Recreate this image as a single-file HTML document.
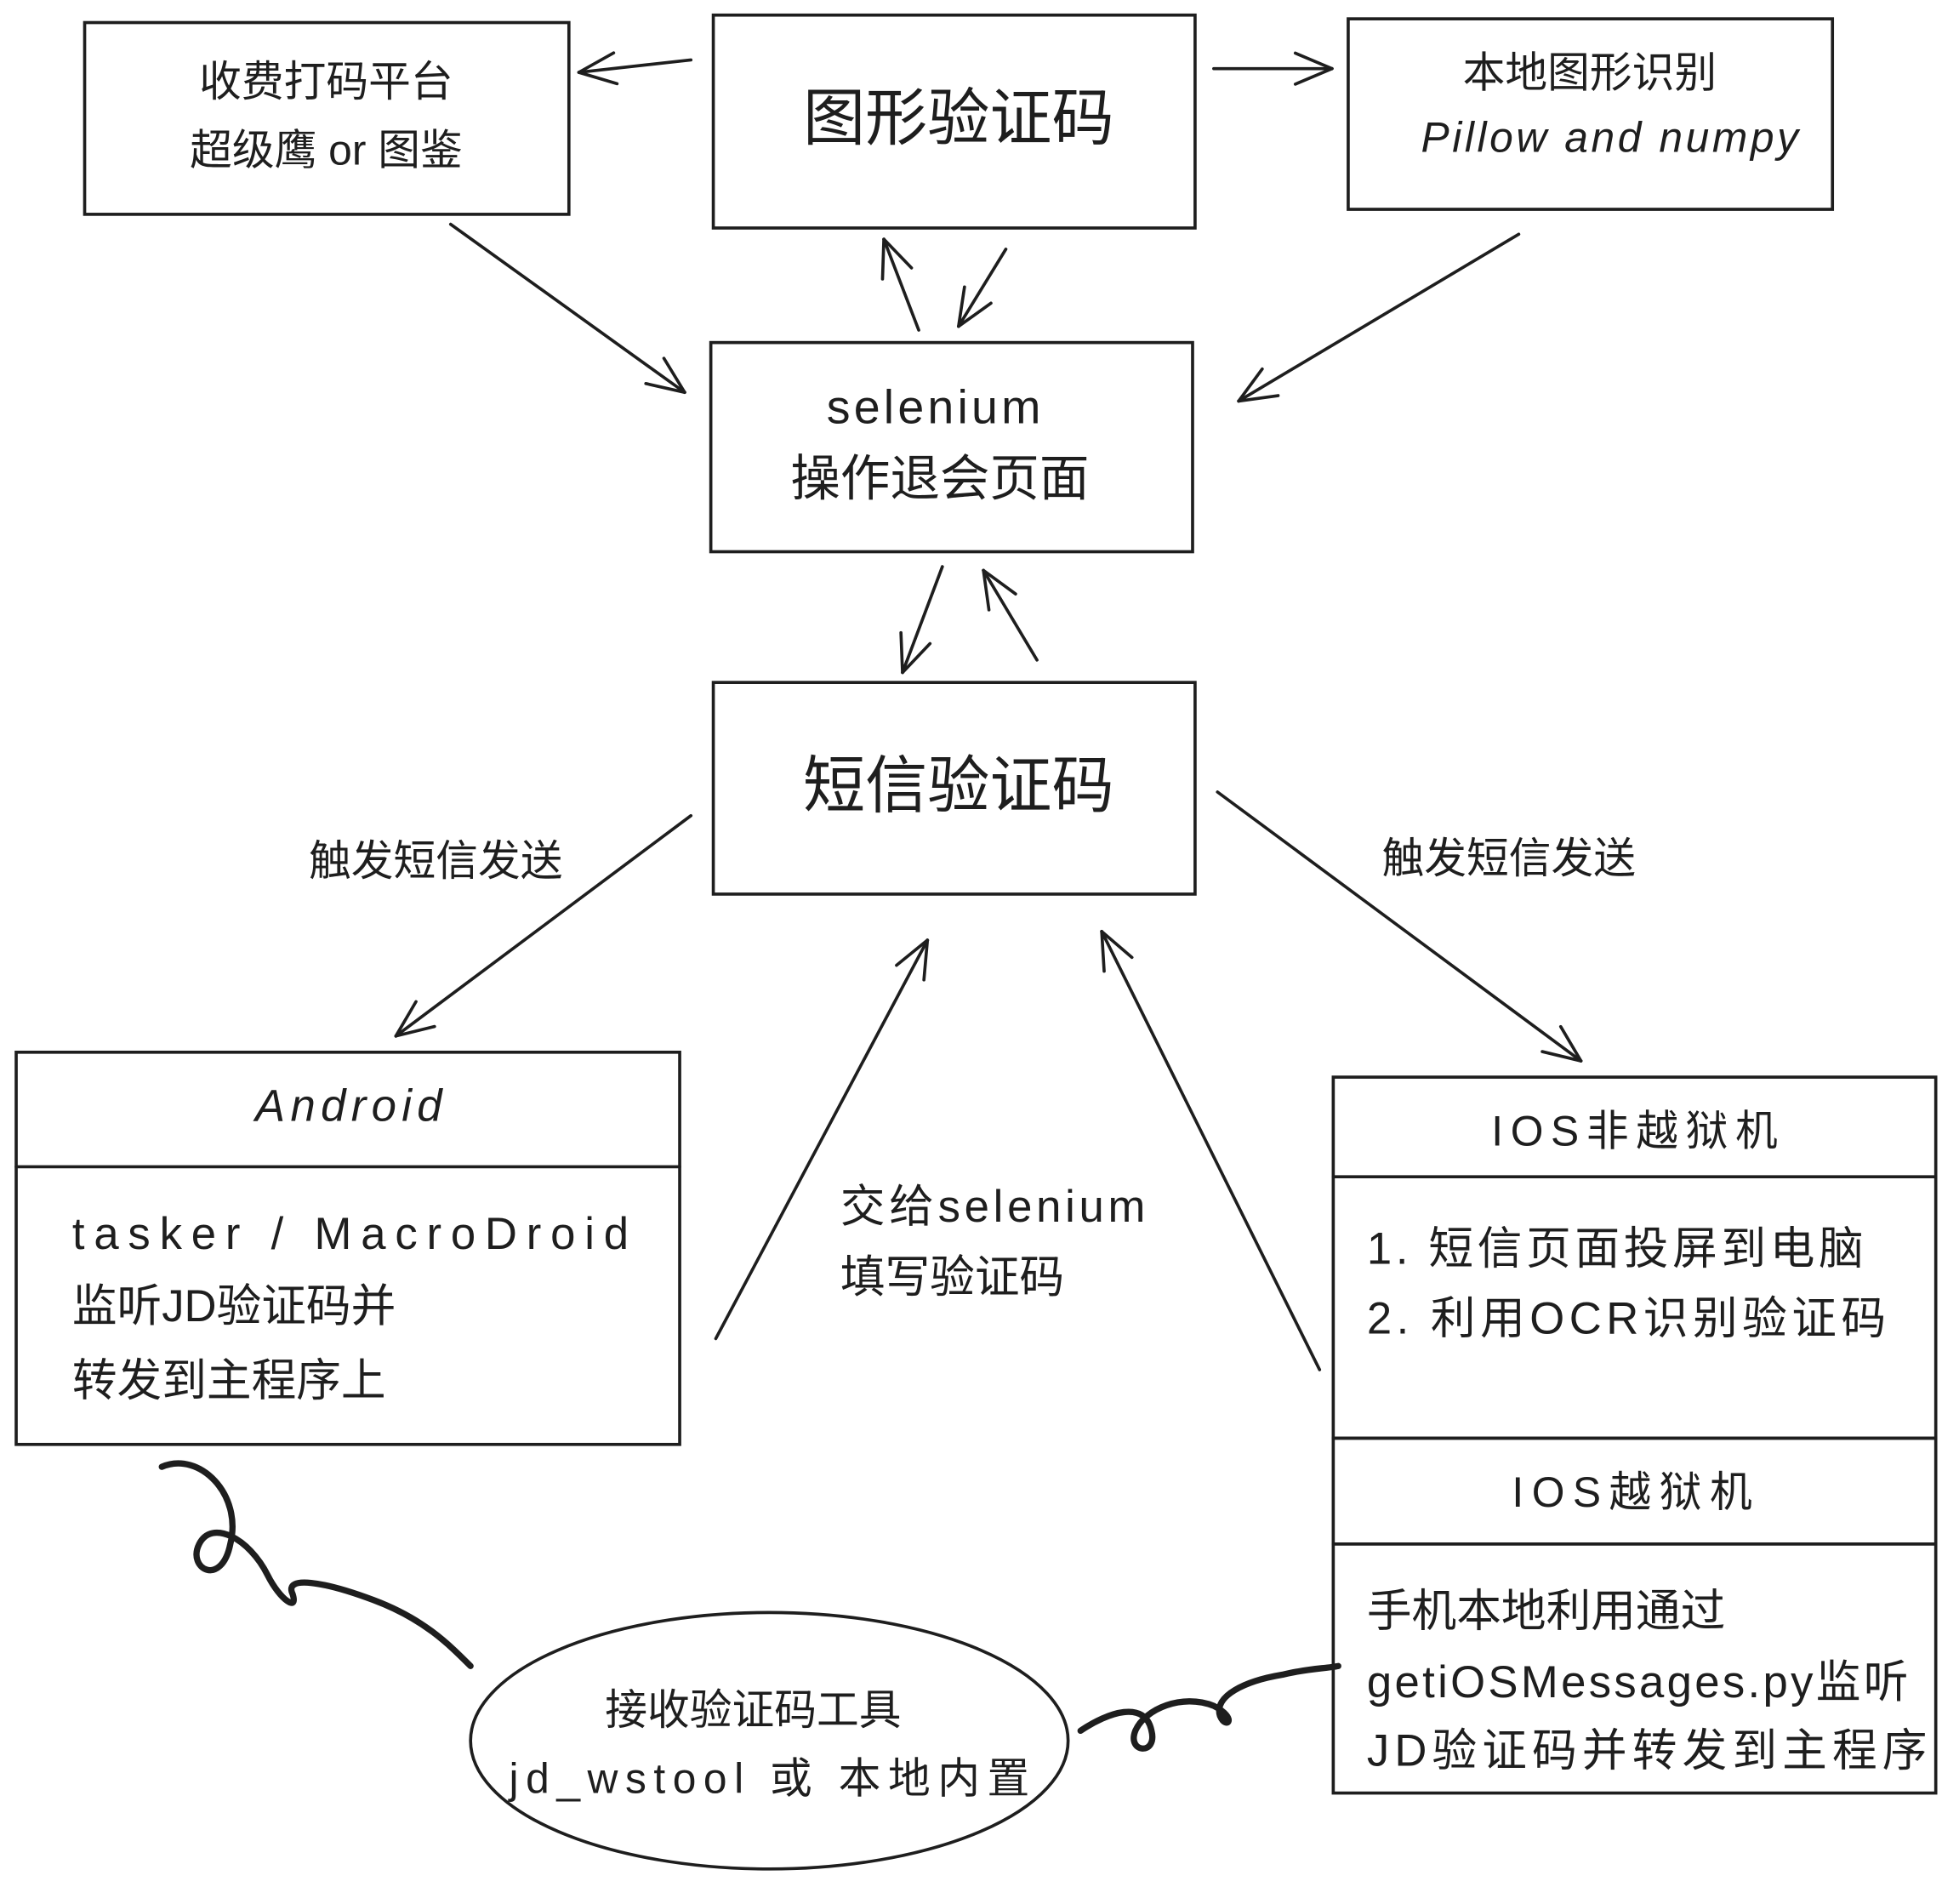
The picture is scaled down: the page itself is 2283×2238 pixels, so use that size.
<!DOCTYPE html>
<html><head><meta charset="utf-8"><style>
html,body{margin:0;padding:0;background:#fff;}
svg{display:block}
text{font-family:"Liberation Sans","Noto Sans CJK SC",sans-serif;fill:#1e1e1e}
</style></head><body>
<svg id="s" width="2283" height="2238" viewBox="0 0 1560 1529" xmlns="http://www.w3.org/2000/svg">
<g fill="none" stroke="#1e1e1e" stroke-width="2.5" stroke-linecap="round">
<rect x="68" y="18" width="389" height="154"/>
<rect x="573" y="12" width="387" height="171"/>
<rect x="1083" y="15" width="389" height="153"/>
<rect x="571" y="275" width="387" height="168"/>
<rect x="573" y="548" width="387" height="170"/>
<rect x="13" y="845" width="533" height="315"/>
<line x1="13" y1="937" x2="546" y2="937"/>
<rect x="1071" y="865" width="484" height="290"/>
<line x1="1071" y1="945" x2="1555" y2="945"/>
<rect x="1071" y="1155" width="484" height="285"/>
<line x1="1071" y1="1240" x2="1555" y2="1240"/>
<ellipse cx="618" cy="1398" rx="240" ry="103"/>
<path d="M130 1178 C160 1165 195 1200 185 1240 C178 1275 150 1260 160 1240 C170 1220 200 1235 215 1265 C225 1285 240 1295 235 1280 C228 1265 260 1270 300 1285 C340 1300 360 1320 378 1338" stroke-width="5"/>
<path d="M868 1390 C890 1375 920 1365 925 1390 C930 1410 905 1408 912 1390 C920 1372 950 1360 975 1370 C995 1380 985 1390 980 1378 C975 1362 1000 1350 1030 1345 C1050 1340 1065 1340 1075 1338" stroke-width="5"/>
<g id="arrows"></g>
</g>
<g font-size="34" text-anchor="middle">
<text x="262" y="77">收费打码平台</text>
<text x="262" y="132">超级鹰 or 图鉴</text>
<text x="770" y="112" font-size="50">图形验证码</text>
<text x="1277" y="70">本地图形识别</text>
<text x="1293" y="122" font-style="italic" textLength="303">Pillow and numpy</text>
<text x="750" y="340" font-size="38" textLength="172">selenium</text>
<text x="755" y="398" font-size="40">操作退会页面</text>
<text x="770" y="648" font-size="50">短信验证码</text>
<text x="280" y="900" font-size="36" font-style="italic" textLength="150">Android</text>
<text x="1313" y="920" textLength="230">IOS非越狱机</text>
<text x="1311" y="1210" textLength="193">IOS越狱机</text>
<text x="350" y="703">触发短信发送</text>
<text x="1212" y="701">触发短信发送</text>
<text x="605" y="1385">接收验证码工具</text>
<text x="618" y="1440" textLength="418">jd_wstool 或 本地内置</text>
</g>
<g font-size="36">
<text x="58" y="1003" textLength="447">tasker / MacroDroid</text>
<text x="58" y="1061">监听JD验证码并</text>
<text x="58" y="1121">转发到主程序上</text>
<text x="675" y="981" textLength="245">交给selenium</text>
<text x="675" y="1038">填写验证码</text>
<text x="1098" y="1015" textLength="399">1.  短信页面投屏到电脑</text>
<text x="1098" y="1071" textLength="417">2.  利用OCR识别验证码</text>
<text x="1098" y="1306">手机本地利用通过</text>
<text x="1098" y="1363" textLength="435">getiOSMessages.py监听</text>
<text x="1098" y="1418" textLength="450">JD验证码并转发到主程序</text>
</g>
</svg>
<script>
var A=[[555,48,465,58],[975,55,1070,55],[362,180,550,315],[1220,188,995,322],[738,265,710,192],[808,200,770,262],[757,455,725,540],[833,530,790,458],[555,655,318,832],[978,636,1270,852],[575,1075,745,755],[1060,1100,885,748]];
var g=document.getElementById('arrows'),h='';
A.forEach(function(a){var dx=a[2]-a[0],dy=a[3]-a[1],L=Math.hypot(dx,dy),ux=dx/L,uy=dy/L,s=32;
h+='<line x1="'+a[0]+'" y1="'+a[1]+'" x2="'+a[2]+'" y2="'+a[3]+'"/>';
[0.4,-0.4].forEach(function(t){var c=Math.cos(t),n=Math.sin(t);var rx=ux*c-uy*n,ry=ux*n+uy*c;
h+='<line x1="'+a[2]+'" y1="'+a[3]+'" x2="'+(a[2]-rx*s)+'" y2="'+(a[3]-ry*s)+'"/>';});});
g.innerHTML=h;
</script>
</body></html>
